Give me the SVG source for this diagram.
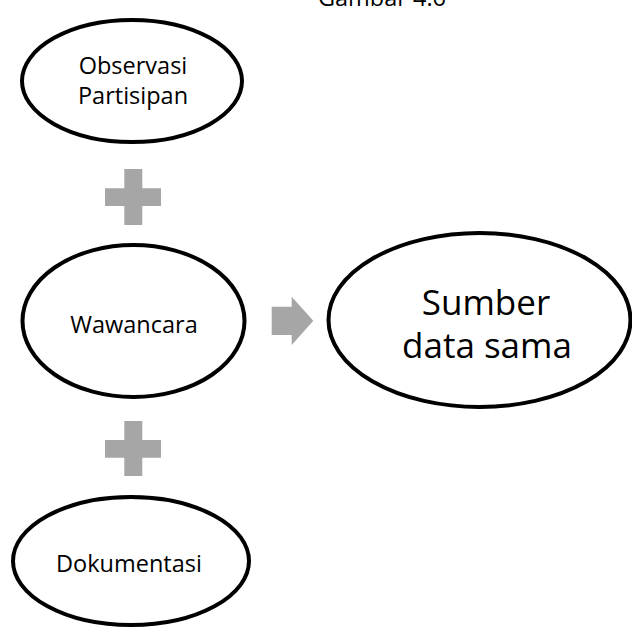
<svg xmlns="http://www.w3.org/2000/svg" width="632" height="627" viewBox="0 0 632 627">
<style>
.node ellipse{fill:#fff;stroke:#000;stroke-width:4}
text{font-family:"Open Sans","Noto Sans",sans-serif;fill:#000;text-anchor:middle}
.s{font-size:23.5px}
.b{font-size:35px}
.sym{fill:#a6a6a6}
</style>
<rect width="632" height="627" fill="#fff"/>
<text class="s" x="382" y="6">Gambar 4.6</text>
<g id="observasi" class="node">
<ellipse cx="132" cy="81" rx="110" ry="61"/>
<text class="s" x="133" y="74">Observasi</text>
<text class="s" x="133" y="104">Partisipan</text>
</g>
<g id="wawancara" class="node">
<ellipse cx="133.5" cy="321" rx="111" ry="76"/>
<text class="s" x="134" y="333">Wawancara</text>
</g>
<g id="dokumentasi" class="node">
<ellipse cx="131" cy="561" rx="118" ry="64"/>
<text class="s" x="129" y="572">Dokumentasi</text>
</g>
<g id="sumber" class="node">
<ellipse cx="479.5" cy="320" rx="151" ry="87"/>
<text class="b" x="486" y="315">Sumber</text>
<text class="b" x="487" y="358">data sama</text>
</g>
<g id="connectors">
<path class="sym" d="M124.3 169h18v19.3h18.7v17.7h-18.7v19h-18v-19h-19.3v-17.7h19.3z"/>
<path class="sym" d="M124.3 421h18v19h18.7v17.7h-18.7v18.3h-18v-18.3h-19.3v-17.7h19.3z"/>
<path class="sym" d="M271.7 306.7h20v-10l21.6 24-21.6 24.3v-10h-20z"/>
</g>
</svg>
